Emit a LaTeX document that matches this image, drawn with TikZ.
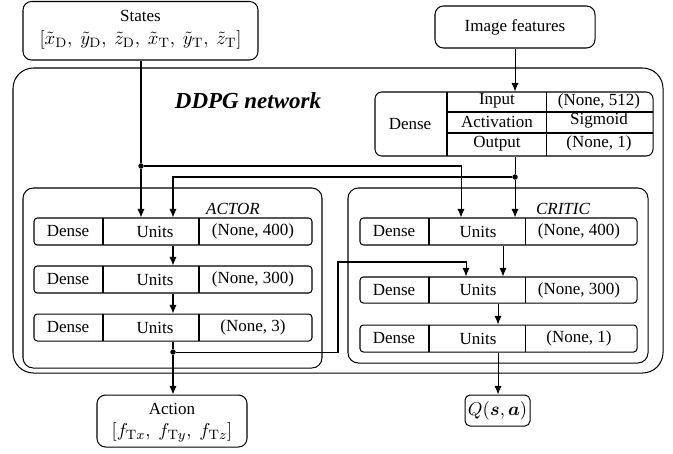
\documentclass[tikz,border=0pt]{standalone}
\usepackage[no-math]{fontspec}
\setmainfont{Liberation Serif}
\usepackage{amsmath}
\usetikzlibrary{arrows.meta,fit}
\begin{document}
\begin{tikzpicture}[x=0.588pt,y=-0.588pt,line width=0.6pt,
  font=\fontsize{10}{12}\selectfont,
  frame/.style={draw,inner sep=0pt},
  txt/.style={inner sep=0pt,anchor=center},
  mtxt/.style={inner sep=0pt,anchor=center,font=\fontsize{11.2}{13}\selectfont},
  arr/.style={-{Latex[length=5pt,width=4.2pt]}},
  dotn/.style={circle,fill,inner sep=0pt,minimum size=3.2pt}]
\useasboundingbox (0,0) rectangle (673,453);

% outer boxes
\node[frame,rounded corners=12pt,fit={(13,68) (663,373)}] (ddpg) {};
\node[txt,font=\fontsize{13.5}{16}\selectfont\bfseries\itshape] (ddpgt) at (248,101) {DDPG network};
\node[frame,rounded corners=6pt,fit={(23,188) (322,368)}] (actor) {};
\node[txt,font=\itshape] (actort) at (233,209) {ACTOR};
\node[frame,rounded corners=6pt,fit={(348,188) (648,363)}] (critic) {};
\node[txt,font=\itshape] (critict) at (563,209) {CRITIC};

% input / output boxes
\node[frame,rounded corners=5pt,fit={(23,1.5) (258,60)}] (states) {};
\node[txt] (statest) at (140.5,16) {States};
\node[mtxt] (statesf) at (140.5,40) {$[\tilde{x}_{\mathrm{D}},\ \tilde{y}_{\mathrm{D}},\ \tilde{z}_{\mathrm{D}},\ \tilde{x}_{\mathrm{T}},\ \tilde{y}_{\mathrm{T}},\ \tilde{z}_{\mathrm{T}}]$};
\node[frame,rounded corners=5pt,fit={(435,6) (595,48)}] (imgf) {};
\node[txt] (imgft) at (515,27) {Image features};
\node[frame,rounded corners=5pt,fit={(97,395) (247,447)}] (action) {};
\node[txt] (actiont) at (172,409) {Action};
\node[mtxt] (actionf) at (172,432) {$[f_{\mathrm{T}x},\ f_{\mathrm{T}y},\ f_{\mathrm{T}z}]$};
\node[frame,rounded corners=3pt,fit={(465,395) (530,426)}] (q) {};
\node[mtxt] (qt) at (497.5,410.5) {$Q(\boldsymbol{s},\boldsymbol{a})$};

% image-feature dense table
\node[frame,rounded corners=4pt,fit={(375,92) (653,156)}] (dense) {};
\draw (447,92) -- (447,156) (546,92) -- (546,156)
      (447,112) -- (653,112) (447,133) -- (653,133);
\node[txt] (dd) at (410,124) {Dense};
\node[txt] (di) at (497,101) {Input};
\node[txt] (div) at (599,101) {(None, 512)};
\node[txt] (da) at (497,122) {Activation};
\node[txt] (dav) at (599,120) {Sigmoid};
\node[txt] (do) at (497,144) {Output};
\node[txt] (dov) at (599,143) {(None, 1)};

% actor rows
\node[frame,rounded corners=2pt,fit={(34,218) (312,245)}] (a1) {};
\node[frame,rounded corners=2pt,fit={(34,266) (312,293)}] (a2) {};
\node[frame,rounded corners=2pt,fit={(34,314) (312,341)}] (a3) {};
\draw (103,218) -- (103,245) (199,218) -- (199,245)
      (103,266) -- (103,293) (199,266) -- (199,293)
      (103,314) -- (103,341) (199,314) -- (199,341);
\node[txt] (a1d) at (68,231.5) {Dense};
\node[txt] (a1u) at (155,231.5) {Units};
\node[txt] (a1v) at (253,231.5) {(None, 400)};
\node[txt] (a2d) at (68,279.5) {Dense};
\node[txt] (a2u) at (155,279.5) {Units};
\node[txt] (a2v) at (253,279.5) {(None, 300)};
\node[txt] (a3d) at (68,327.5) {Dense};
\node[txt] (a3u) at (155,327.5) {Units};
\node[txt] (a3v) at (253,327.5) {(None, 3)};

% critic rows
\node[frame,rounded corners=2pt,fit={(360,218) (637,245)}] (c1) {};
\node[frame,rounded corners=2pt,fit={(360,277) (637,303)}] (c2) {};
\node[frame,rounded corners=2pt,fit={(360,325) (637,352)}] (c3) {};
\draw (429,218) -- (429,245) (525,218) -- (525,245)
      (429,277) -- (429,303) (525,277) -- (525,303)
      (429,325) -- (429,352) (525,325) -- (525,352);
\node[txt] (c1d) at (394,231.5) {Dense};
\node[txt] (c1u) at (478,231.5) {Units};
\node[txt] (c1v) at (579,231.5) {(None, 400)};
\node[txt] (c2d) at (394,290) {Dense};
\node[txt] (c2u) at (478,290) {Units};
\node[txt] (c2v) at (579,290) {(None, 300)};
\node[txt] (c3d) at (394,338.5) {Dense};
\node[txt] (c3u) at (478,338.5) {Units};
\node[txt] (c3v) at (579,338.5) {(None, 1)};

% junctions and helper coordinates
\node[dotn] (d1) at (141,166) {};
\node[dotn] (d2) at (515,177) {};
\node[dotn] (d3) at (173,352) {};
\coordinate (xa) at (173,0);
\coordinate (xc1) at (461,0);
\coordinate (xc2) at (466,0);
\coordinate (xc3) at (503,0);
\coordinate (xc4) at (498,0);
\coordinate (k1) at (338,262);

% connectors
\draw (states.south -| d1) -- (d1);
\draw[arr] (d1) -- (d1 |- a1.north);
\draw[arr] (d1) -| (xc1 |- c1.north);
\draw[arr] (imgf.south -| d2) -- (d2 |- dense.north);
\draw (dense.south -| d2) -- (d2);
\draw[arr] (d2) -- (d2 |- c1.north);
\draw[arr] (d2) -| (xa |- a1.north);
\draw[arr] (xa |- a1.south) -- (xa |- a2.north);
\draw[arr] (xa |- a2.south) -- (xa |- a3.north);
\draw (xa |- a3.south) -- (d3);
\draw[arr] (d3) -- (d3 |- action.north);
\draw[arr] (d3) -| (k1) -| (xc2 |- c2.north);
\draw[arr] (xc3 |- c1.south) -- (xc3 |- c2.north);
\draw[arr] (xc4 |- c2.south) -- (xc4 |- c3.north);
\draw[arr] (xc4 |- c3.south) -- (xc4 |- q.north);
\end{tikzpicture}
\end{document}
